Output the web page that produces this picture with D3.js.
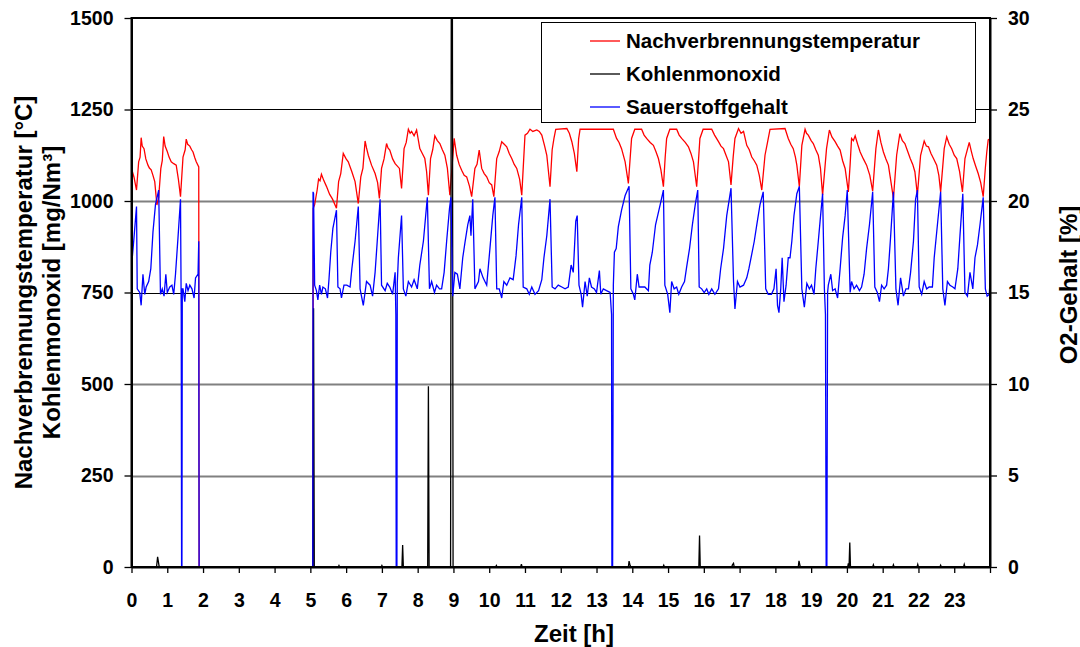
<!DOCTYPE html>
<html>
<head>
<meta charset="utf-8">
<script src="https://cdn.jsdelivr.net/npm/d3@7"></script>
<style>
  body { margin: 0; background: #fff; }
  svg { display: block; font-family: "Liberation Sans", Arial, sans-serif; font-weight: bold; }
</style>
</head>
<body>
<script>
// Nachverbrennungstemperatur [°C], [Zeit h, Wert]
var tempData = [
    [0.00,1089],[0.07,1065],[0.14,1030],[0.20,1107],[0.24,1120],[0.27,1173],[0.30,1150],[0.35,1143],[0.40,1115],[0.46,1098],
    [0.50,1090],[0.55,1085],[0.60,1070],[0.65,1053],[0.71,989],[0.76,1010],[0.82,1089],[0.86,1110],[0.90,1176],[0.94,1150],
    [1.00,1135],[1.05,1120],[1.11,1107],[1.18,1102],[1.25,1098],[1.31,1060],[1.37,1012],[1.44,1120],[1.50,1140],[1.53,1169],
    [1.57,1155],[1.63,1150],[1.68,1140],[1.72,1134],[1.77,1118],[1.81,1107],[1.88,1093],[1.89,0],
    [5.07,0],[5.08,980],[5.12,990],[5.19,1030],[5.23,1060],[5.27,1055],[5.31,1073],[5.38,1055],[5.45,1040],[5.54,1018],
    [5.62,1005],[5.73,980],[5.79,1053],[5.85,1075],[5.92,1130],[6.00,1115],[6.06,1107],[6.16,1080],[6.25,1053],[6.34,993],
    [6.41,1066],[6.47,1090],[6.53,1164],[6.57,1145],[6.62,1125],[6.71,1098],[6.81,1075],[6.88,1050],[6.93,1007],[6.99,1089],
    [7.06,1115],[7.13,1157],[7.17,1145],[7.22,1139],[7.30,1115],[7.37,1102],[7.49,1089],[7.55,1034],[7.62,1143],[7.68,1160],
    [7.74,1196],[7.79,1185],[7.83,1190],[7.90,1178],[7.97,1194],[8.06,1143],[8.13,1130],[8.20,1116],[8.25,1080],[8.30,1016],
    [8.36,1116],[8.42,1140],[8.48,1178],[8.55,1165],[8.62,1157],[8.69,1140],[8.76,1125],[8.83,1090],[8.90,1016],[8.95,1080],
    [9.02,1171],[9.09,1125],[9.16,1100],[9.23,1084],[9.30,1070],[9.37,1066],[9.45,1040],[9.51,1012],[9.60,1089],[9.66,1100],
    [9.72,1139],[9.79,1089],[9.86,1075],[9.93,1066],[10.00,1050],[10.07,1044],[10.13,1012],[10.21,1116],[10.28,1135],[10.35,1162],
    [10.42,1155],[10.49,1148],[10.56,1130],[10.63,1116],[10.70,1100],[10.77,1089],[10.85,1060],[10.91,1016],[11.00,1180],[11.07,1185],
    [11.14,1196],[11.22,1190],[11.33,1194],[11.40,1190],[11.47,1180],[11.55,1150],[11.61,1125],[11.70,1039],[11.76,1140],[11.81,1171],
    [11.86,1196],[12.17,1198],[12.24,1185],[12.31,1162],[12.38,1130],[12.45,1080],[12.50,1170],[12.54,1196],[13.47,1196],[13.56,1171],
    [13.63,1160],[13.70,1143],[13.80,1107],[13.89,1048],[13.95,1130],[13.98,1171],[14.07,1196],[14.26,1196],[14.33,1180],[14.40,1171],
    [14.50,1160],[14.59,1152],[14.66,1135],[14.73,1116],[14.80,1085],[14.87,1039],[14.92,1120],[14.96,1171],[15.05,1196],[15.24,1196],
    [15.31,1180],[15.38,1171],[15.48,1160],[15.57,1148],[15.64,1130],[15.71,1107],[15.80,1039],[15.85,1110],[15.89,1171],[15.98,1196],
    [16.22,1196],[16.30,1180],[16.41,1162],[16.48,1150],[16.55,1143],[16.62,1125],[16.69,1107],[16.76,1044],[16.82,1120],[16.87,1171],
    [16.97,1198],[17.04,1185],[17.11,1190],[17.20,1152],[17.27,1140],[17.34,1120],[17.41,1110],[17.48,1098],[17.55,1070],[17.62,1030],
    [17.71,1125],[17.78,1160],[17.85,1196],[18.27,1198],[18.36,1171],[18.43,1155],[18.50,1143],[18.56,1120],[18.60,1098],[18.67,1039],
    [18.74,1152],[18.83,1196],[18.87,1185],[18.92,1180],[19.00,1165],[19.06,1157],[19.13,1140],[19.20,1125],[19.26,1090],[19.32,1016],
    [19.43,1143],[19.51,1194],[19.58,1175],[19.67,1162],[19.74,1150],[19.81,1139],[19.88,1110],[19.95,1089],[20.04,1025],[20.09,1100],
    [20.13,1171],[20.18,1165],[20.23,1178],[20.30,1155],[20.37,1134],[20.46,1115],[20.55,1098],[20.64,1070],[20.72,1027],[20.81,1143],
    [20.88,1194],[20.95,1160],[21.02,1134],[21.09,1115],[21.16,1098],[21.21,1066],[21.30,1007],[21.39,1125],[21.48,1184],[21.55,1165],
    [21.62,1157],[21.70,1135],[21.77,1116],[21.84,1100],[21.90,1080],[21.97,1016],[22.06,1125],[22.16,1164],[22.22,1150],[22.28,1148],
    [22.35,1130],[22.42,1116],[22.51,1098],[22.57,1070],[22.62,1025],[22.72,1143],[22.79,1175],[22.86,1155],[22.93,1143],[23.00,1125],
    [23.07,1116],[23.15,1080],[23.23,1025],[23.30,1116],[23.42,1160],[23.48,1135],[23.53,1116],[23.60,1095],[23.67,1075],[23.74,1050],
    [23.81,1012],[23.87,1090],[23.91,1134],[23.95,1167],[24.00,1170]
];

// Kohlenmonoxid [mg/Nm³]
var coData = [
    [0,0],[0.70,0],[0.73,28],[0.77,3],[0.80,0],[5.07,0],[5.09,707],[5.11,0],[5.78,0],[5.80,4],[5.82,0],
    [6.98,0],[7.00,4],[7.02,0],[7.56,0],[7.58,60],[7.60,0],[8.28,0],[8.30,494],[8.32,0],
    [8.92,0],[8.94,1600],[8.97,1600],[8.99,0],[10.18,0],[10.20,4],[10.22,0],[10.88,0],[10.90,8],[10.92,0],
    [13.89,0],[13.91,16],[13.94,4],[13.96,0],[14.86,0],[14.88,5],[14.90,0],[15.86,0],[15.88,86],[15.90,0],
    [16.78,0],[16.80,6],[16.83,10],[16.85,0],[18.64,0],[18.66,17],[18.69,3],[18.71,0],
    [20.02,0],[20.04,10],[20.06,0],[20.08,67],[20.10,0],[20.72,0],[20.74,6],[20.76,0],[21.28,0],[21.30,6],[21.32,0],
    [21.96,0],[21.98,7],[22.00,0],[22.60,0],[22.62,5],[22.64,0],[23.26,0],[23.28,7],[23.30,0],[24,0]
];

// Sauerstoffgehalt [%]
var o2Data = [
    [0.00,16.4],[0.07,18.0],[0.14,19.7],[0.16,15.2],[0.23,15.0],[0.27,14.3],[0.32,16.0],[0.37,14.9],[0.41,15.3],[0.48,15.6],
    [0.54,16.3],[0.60,18.3],[0.67,19.8],[0.76,20.6],[0.81,14.9],[0.86,15.2],[0.91,14.8],[0.96,16.0],[1.00,15.0],[1.07,15.3],
    [1.13,15.4],[1.18,14.9],[1.23,16.0],[1.30,18.0],[1.37,20.1],[1.39,13.8],[1.40,0],[1.41,0],[1.42,15.2],[1.44,15.2],
    [1.49,14.5],[1.53,15.5],[1.58,15.1],[1.63,15.4],[1.69,15.2],[1.75,14.7],[1.79,15.8],[1.86,16.0],[1.88,17.8],[1.89,0],
    [5.07,0],[5.075,20.5],[5.09,20.4],[5.12,15.4],[5.17,15.1],[5.21,14.6],[5.26,15.4],[5.31,14.9],[5.35,15.3],[5.42,15.2],
    [5.48,14.7],[5.52,15.7],[5.57,17.2],[5.63,18.5],[5.73,19.5],[5.77,15.3],[5.83,15.2],[5.87,14.7],[5.94,15.4],[6.02,15.4],
    [6.11,15.3],[6.16,16.3],[6.25,17.8],[6.34,19.7],[6.39,15.2],[6.48,14.3],[6.57,15.6],[6.67,15.4],[6.74,14.8],[6.81,16.1],
    [6.87,17.8],[6.95,20.1],[6.99,15.4],[7.09,15.1],[7.15,15.5],[7.22,15.3],[7.30,14.9],[7.37,16.1],[7.39,13.8],[7.40,0],
    [7.42,0],[7.43,15.5],[7.46,16.9],[7.55,19.2],[7.60,15.2],[7.67,14.8],[7.74,15.6],[7.83,15.3],[7.90,15.7],[7.99,15.2],
    [8.06,16.5],[8.16,17.8],[8.27,20.2],[8.33,15.2],[8.39,15.6],[8.47,15.0],[8.53,15.4],[8.61,15.2],[8.67,15.2],[8.74,16.1],
    [8.81,17.8],[8.89,19.6],[8.93,20.2],[8.98,14.8],[9.04,16.1],[9.11,16.0],[9.18,15.2],[9.26,16.9],[9.32,17.7],[9.40,18.7],
    [9.46,19.2],[9.49,18.1],[9.54,20.1],[9.60,15.2],[9.70,15.6],[9.74,16.3],[9.83,15.8],[9.93,15.4],[10.02,17.4],[10.10,19.2],
    [10.16,20.2],[10.21,15.2],[10.28,15.2],[10.35,14.7],[10.41,15.6],[10.49,15.4],[10.58,15.8],[10.67,15.7],[10.75,17.0],[10.82,18.7],
    [10.91,20.2],[10.95,15.3],[11.05,15.2],[11.12,14.9],[11.19,15.3],[11.28,14.9],[11.38,15.1],[11.47,15.7],[11.53,16.9],[11.61,18.1],
    [11.70,20.1],[11.76,15.3],[11.84,15.2],[11.93,15.4],[12.03,15.3],[12.12,15.2],[12.21,15.3],[12.29,16.5],[12.35,16.1],[12.42,18.9],
    [12.46,19.2],[12.51,15.4],[12.57,14.9],[12.61,14.2],[12.68,15.6],[12.74,14.8],[12.80,15.8],[12.86,15.3],[12.94,15.2],[13.00,15.0],
    [13.08,16.2],[13.12,14.9],[13.19,15.2],[13.28,15.1],[13.38,15.0],[13.42,13.8],[13.43,0],[13.45,0],[13.47,15.4],[13.50,17.2],
    [13.55,17.4],[13.61,18.6],[13.70,19.5],[13.80,20.3],[13.91,20.8],[13.96,15.2],[14.03,14.9],[14.07,14.6],[14.14,16.0],[14.19,15.3],
    [14.26,15.3],[14.35,15.3],[14.45,15.1],[14.49,16.5],[14.56,17.2],[14.65,18.7],[14.78,19.8],[14.87,20.6],[14.91,15.4],[14.99,14.9],
    [15.05,13.9],[15.10,15.6],[15.17,15.2],[15.24,15.3],[15.30,14.9],[15.38,15.3],[15.46,15.6],[15.52,16.4],[15.60,17.4],[15.68,18.7],
    [15.76,19.8],[15.83,20.6],[15.87,15.3],[15.94,15.2],[16.01,15.0],[16.08,15.2],[16.14,14.9],[16.22,15.2],[16.31,14.9],[16.41,15.2],
    [16.47,16.3],[16.55,17.4],[16.64,19.2],[16.76,20.7],[16.83,15.6],[16.87,14.1],[16.94,15.6],[17.01,15.3],[17.11,15.4],[17.20,15.8],
    [17.26,16.3],[17.34,17.1],[17.41,17.8],[17.48,18.7],[17.57,19.8],[17.66,20.5],[17.73,15.2],[17.80,14.9],[17.89,14.9],[17.96,15.2],
    [18.02,16.3],[18.06,14.3],[18.10,13.9],[18.15,15.2],[18.19,16.9],[18.24,14.5],[18.30,15.4],[18.36,16.9],[18.41,16.9],[18.46,17.8],
    [18.52,19.2],[18.60,20.4],[18.67,20.8],[18.74,15.2],[18.81,14.2],[18.88,15.5],[18.95,15.2],[19.01,15.4],[19.08,14.9],[19.13,16.3],
    [19.20,17.8],[19.25,18.9],[19.32,20.4],[19.37,15.2],[19.40,13.8],[19.42,0],[19.44,0],[19.46,15.0],[19.48,15.4],[19.55,16.0],
    [19.60,15.1],[19.67,15.2],[19.74,14.7],[19.81,16.3],[19.88,18.0],[19.95,19.2],[20.01,20.6],[20.09,15.0],[20.13,15.6],[20.20,15.2],
    [20.27,15.4],[20.35,15.1],[20.41,15.3],[20.48,16.0],[20.55,17.4],[20.63,18.7],[20.72,20.5],[20.78,15.3],[20.85,15.0],[20.91,14.5],
    [20.97,15.4],[21.04,15.2],[21.11,15.4],[21.16,16.3],[21.22,18.0],[21.30,20.5],[21.37,15.2],[21.43,14.3],[21.50,15.8],[21.58,14.8],
    [21.65,15.2],[21.72,15.2],[21.78,16.1],[21.86,17.8],[21.92,20.1],[21.97,20.6],[22.02,15.3],[22.09,14.9],[22.16,15.6],[22.23,15.2],
    [22.30,15.3],[22.39,15.3],[22.44,16.9],[22.53,18.7],[22.62,20.5],[22.68,15.2],[22.74,14.3],[22.81,15.6],[22.88,15.4],[22.96,15.3],
    [23.02,15.2],[23.10,16.3],[23.16,18.1],[23.24,20.4],[23.30,15.0],[23.37,14.8],[23.44,16.1],[23.52,15.2],[23.58,16.9],[23.65,17.6],
    [23.72,18.7],[23.81,20.2],[23.87,15.2],[23.92,14.8],[23.98,14.9],[24.00,15.6]
];

var hourTicks = [0,1,2,3,4,5,6,7,8,9,10,11,12,13,14,15,16,17,18,19,20,21,22,23,24];
var tempTicks = [0,250,500,750,1000,1250,1500];
var o2Ticks = [0,5,10,15,20,25,30];
var legendLabels = ['Nachverbrennungstemperatur', 'Kohlenmonoxid', 'Sauerstoffgehalt'];

var plotL = 131.5, plotR = 990, plotT = 18, plotB = 567;

var svg = d3.select('body').append('svg')
    .attr('width', 1080)
    .attr('height', 647);

var x = d3.scaleLinear().domain([0, 24]).range([plotL, plotR]);
var yT = d3.scaleLinear().domain([0, 1500]).range([plotB, plotT]);
var yO = d3.scaleLinear().domain([0, 30]).range([plotB, plotT]);

svg.append('clipPath').attr('id', 'plotclip')
    .append('rect')
    .attr('x', plotL).attr('y', plotT)
    .attr('width', plotR - plotL).attr('height', plotB - plotT);

// gridlines (some look black, some grey in the original)
svg.append('g').selectAll('line')
    .data(tempTicks.filter(function (d) { return d > 0 && d < 1500; }))
    .enter().append('line')
    .attr('x1', plotL).attr('x2', plotR)
    .attr('y1', function (d) { return Math.round(yT(d)) + 0.5; })
    .attr('y2', function (d) { return Math.round(yT(d)) + 0.5; })
    .attr('stroke', function (d) { return (d == 750 || d == 1250) ? '#000' : '#808080'; })
    .attr('stroke-width', function (d) { return (d == 750 || d == 1250) ? 1 : 2; });

var lineT = d3.line().x(function (d) { return x(d[0]); }).y(function (d) { return yT(d[1]); });
var lineO = d3.line().x(function (d) { return x(d[0]); }).y(function (d) { return yO(d[1]); });

var plot = svg.append('g').attr('clip-path', 'url(#plotclip)');
plot.append('path').datum(tempData).attr('d', lineT)
    .attr('fill', 'none').attr('stroke', '#ff0000').attr('stroke-width', 1.3);
plot.append('path').datum(coData).attr('d', lineT)
    .attr('fill', 'none').attr('stroke', '#000').attr('stroke-width', 1.3);
plot.append('path').datum(o2Data).attr('d', lineO)
    .attr('fill', 'none').attr('stroke', '#0000ff').attr('stroke-width', 1.3);

// frame
svg.append('rect')
    .attr('x', plotL).attr('y', plotT)
    .attr('width', plotR - plotL).attr('height', plotB - plotT)
    .attr('fill', 'none').attr('stroke', '#000').attr('stroke-width', 2);

function styleAxis(g) {
    g.select('.domain').attr('stroke-width', 2);
    g.selectAll('.tick line').attr('stroke-width', 1.3);
    g.selectAll('.tick text')
        .attr('fill', '#000')
        .style('font-size', '19.5px')
        .style('font-weight', 'bold')
        .style('font-family', '"Liberation Sans", Arial, sans-serif');
}

svg.append('g')
    .attr('transform', 'translate(' + plotL + ',0)')
    .call(d3.axisLeft(yT).tickValues(tempTicks).tickSize(7).tickPadding(11).tickSizeOuter(0)
        .tickFormat(d3.format('d')))
    .call(styleAxis);

svg.append('g')
    .attr('transform', 'translate(' + plotR + ',0)')
    .call(d3.axisRight(yO).tickValues(o2Ticks).tickSize(7).tickPadding(11).tickSizeOuter(0)
        .tickFormat(d3.format('d')))
    .call(styleAxis);

svg.append('g')
    .attr('transform', 'translate(0,' + plotB + ')')
    .call(d3.axisBottom(x).tickValues(hourTicks).tickSize(6).tickPadding(20).tickSizeOuter(0)
        .tickFormat(function (d) { return d < 24 ? d : ''; }))
    .call(styleAxis);

// axis titles
svg.append('text')
    .attr('transform', 'translate(31.5,' + (plotT + plotB) / 2 + ') rotate(-90)')
    .attr('text-anchor', 'middle').style('font-size', '24px')
    .text('Nachverbrennungstemperatur [°C]');
svg.append('text')
    .attr('transform', 'translate(60,' + (plotT + plotB) / 2 + ') rotate(-90)')
    .attr('text-anchor', 'middle').style('font-size', '24px')
    .text('Kohlenmonoxid [mg/Nm³]');
svg.append('text')
    .attr('transform', 'translate(1076.5,285) rotate(-90)')
    .attr('text-anchor', 'middle').style('font-size', '24px')
    .text('O2-Gehalt [%]');
svg.append('text')
    .attr('x', 574).attr('y', 642)
    .attr('text-anchor', 'middle').style('font-size', '24px')
    .text('Zeit [h]');

// legend
var legend = svg.append('g');
legend.append('rect')
    .attr('x', 541.5).attr('y', 22.5).attr('width', 434).attr('height', 100)
    .attr('fill', '#fff').attr('stroke', '#000').attr('stroke-width', 1);
var legendColors = ['#ff0000', '#000', '#0000ff'];
var item = legend.selectAll('.item')
    .data(legendLabels)
    .enter().append('g')
    .attr('transform', function (d, i) { return 'translate(0,' + (41 + i * 33) + ')'; });
item.append('line')
    .attr('x1', 590).attr('x2', 620)
    .attr('stroke', function (d, i) { return legendColors[i]; })
    .attr('stroke-width', 1.3);
item.append('text')
    .attr('x', 626).attr('dy', '0.35em')
    .style('font-size', '20.5px')
    .text(function (d) { return d; });
</script>
</body>
</html>
